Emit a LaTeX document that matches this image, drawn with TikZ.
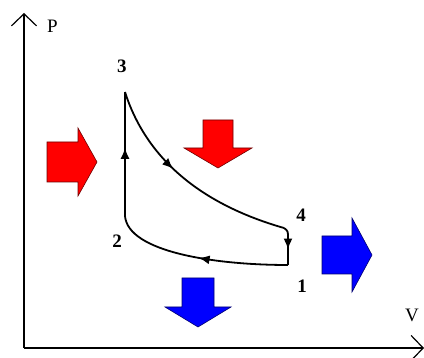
\documentclass[tikz,border=0pt]{standalone}
\usepackage{fontspec}
\setmainfont{Liberation Serif}
\usetikzlibrary{arrows.meta,decorations.markings}
\tikzset{
  cycleline/.style={draw=black,line width=1.8pt,line join=round},
  flowmark/.style={postaction={decorate},decoration={markings,mark=at position #1 with {\arrow{Latex[length=11pt,width=9pt]}}}},
  axisline/.style={draw=black,line width=2pt,-{Straight Barb[length=12pt,width=25pt,line width=1.2pt]}},
  statelabel/.style={inner sep=0pt,outer sep=0pt,font=\bfseries\fontsize{19}{22}\selectfont},
  axislabel/.style={inner sep=0pt,outer sep=0pt,font=\fontsize{19}{22}\selectfont},
  heatarrow/.style={fill={rgb,255:red,255;green,0;blue,0},draw={rgb,255:red,110;green,0;blue,0},line width=0.6pt,line join=miter},
  coolarrow/.style={fill={rgb,255:red,0;green,0;blue,255},draw={rgb,255:red,0;green,0;blue,110},line width=0.6pt,line join=miter}
}
\begin{document}
\begin{tikzpicture}[x=1pt,y=-1pt]
\path[use as bounding box,fill=white] (0,0) rectangle (424,358);
\coordinate (origin) at (24,348);
\coordinate (ptop) at (24,13);
\coordinate (vend) at (424,348);
\draw[axisline] (origin) -- (ptop);
\draw[axisline] (origin) -- (vend);
\node[axislabel,anchor=base west] (plabel) at (47,33) {P};
\node[axislabel,anchor=base west] (vlabel) at (405,322) {V};
\coordinate (p1) at (288,265);
\coordinate (p2) at (125,216);
\coordinate (p3) at (125,92);
\coordinate (p4) at (284,228);
\draw[cycleline,flowmark=0.55] (p2) -- (p3);
\draw[cycleline,flowmark=0.42] (p3) .. controls (146,158) and (200,204) .. (p4);
\draw[cycleline,flowmark=0.6] (p4) .. controls (288,231) .. (288,238) -- (p1);
\draw[cycleline,flowmark=0.5] (p1) .. controls (215,265) and (128,252) .. (p2);
\node[statelabel,anchor=base] (l1) at (302,293) {1};
\node[statelabel,anchor=base] (l2) at (117,248) {2};
\node[statelabel,anchor=base] (l3) at (122,73) {3};
\node[statelabel,anchor=base] (l4) at (301,222) {4};
\path[heatarrow] (47,142) -- (78,142) -- (78,128) -- (97,162) -- (78,196) -- (78,182) -- (47,182) -- cycle;
\path[heatarrow] (203,120) -- (233,120) -- (233,148) -- (252,148) -- (218,168) -- (184,148) -- (203,148) -- cycle;
\path[coolarrow] (182,278) -- (214,278) -- (214,307) -- (231,307) -- (198,327) -- (165,307) -- (182,307) -- cycle;
\path[coolarrow] (322,236) -- (352,236) -- (352,218) -- (372,255) -- (352,292) -- (352,274) -- (322,274) -- cycle;
\end{tikzpicture}
\end{document}
